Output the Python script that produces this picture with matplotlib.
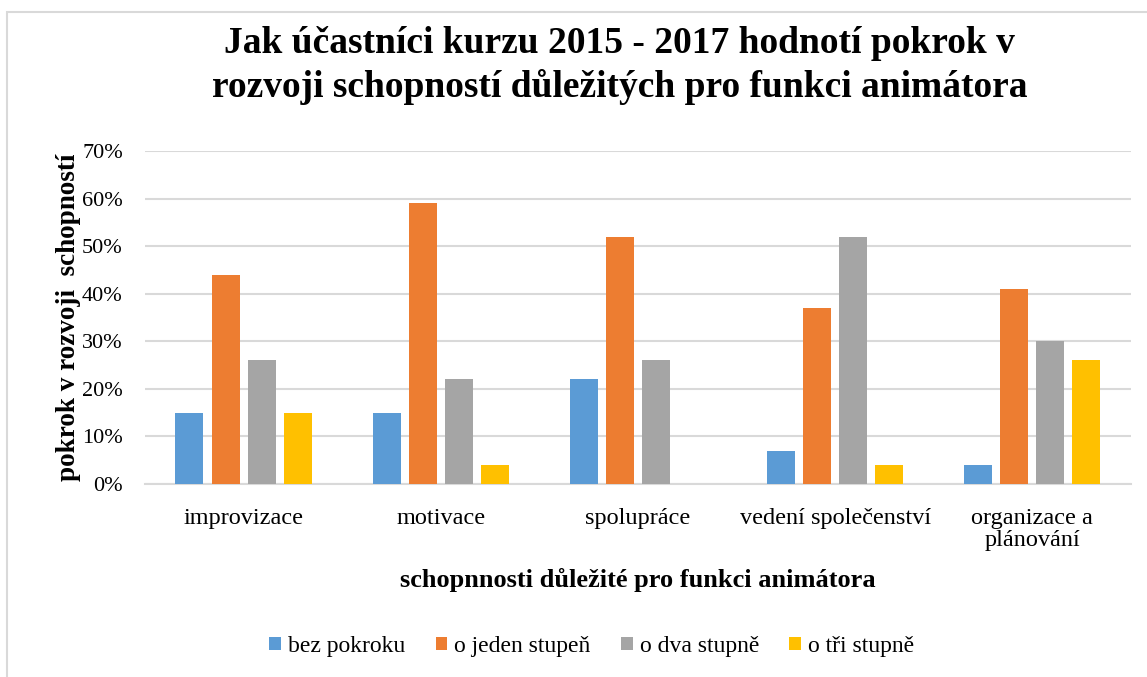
import matplotlib
matplotlib.use("Agg")
import matplotlib.pyplot as plt
import numpy as np
from matplotlib.patches import Rectangle
from matplotlib.ticker import PercentFormatter

plt.rcParams['font.family'] = ['Liberation Serif', 'DejaVu Serif']

categories = ["improvizace", "motivace", "spolupráce", "vedení společenství", "organizace a\nplánování"]
series_names = ["bez pokroku", "o jeden stupeň", "o dva stupně", "o tři stupně"]
bez_pokroku = [15, 15, 22, 7, 4]
o_jeden = [44, 59, 52, 37, 41]
o_dva = [26, 22, 26, 52, 30]
o_tri = [15, 4, 0, 4, 26]
colors = ["#5B9BD5", "#ED7D31", "#A5A5A5", "#FFC000"]
yticks = [0, 10, 20, 30, 40, 50, 60, 70]

fig = plt.figure(figsize=(11.47, 6.77), dpi=100)
ax = fig.add_axes([0.1264, 0.285, 0.8596, 0.4918])

x = np.arange(len(categories))
bw = 0.142
step = 0.183
for i, (vals, name, c) in enumerate(zip([bez_pokroku, o_jeden, o_dva, o_tri], series_names, colors)):
    ax.bar(x + (i - 1.5) * step, vals, width=bw, color=c, label=name, zorder=3)

ax.set_xlim(-0.5, len(categories) - 0.5)
ax.set_ylim(0, 70)
ax.set_yticks(yticks)
ax.yaxis.set_major_formatter(PercentFormatter(decimals=0))
ax.grid(axis='y', color='#D9D9D9', linewidth=1.5, zorder=0)
for s in ['top', 'right', 'left']:
    ax.spines[s].set_visible(False)
ax.spines['bottom'].set_color('#D9D9D9')
ax.spines['bottom'].set_linewidth(1.5)
ax.tick_params(axis='both', length=0)
ax.tick_params(axis='y', pad=16, labelsize=16)
ax.tick_params(axis='x', pad=17, labelsize=17.5)
ax.set_xticks(x)
ax.set_xticklabels(categories, linespacing=1.08)

ax.set_ylabel("pokrok v rozvoji  schopností", fontsize=19.5, fontweight='bold', labelpad=1)
ax.set_xlabel("schopnnosti důležité pro funkci animátora", fontsize=19, fontweight='bold', labelpad=12)

fig.text(0.54, 0.962, "Jak účastníci kurzu 2015 - 2017 hodnotí pokrok v\nrozvoji schopností důležitých pro funkci animátora",
         ha='center', va='top', fontsize=27, fontweight='bold', linespacing=1.3)

leg = fig.legend(loc='center', bbox_to_anchor=(0.516, 0.045), ncol=4, frameon=False, fontsize=17,
                 handlelength=0.5, handleheight=0.5, handletextpad=0.3, columnspacing=1.28)

fig.patches.append(Rectangle((0.006, -0.1), 1.2, 1 - 0.018 + 0.1, transform=fig.transFigure,
                             fill=False, edgecolor='#D9D9D9', linewidth=1.5))

fig.savefig("out.png", dpi=100)
